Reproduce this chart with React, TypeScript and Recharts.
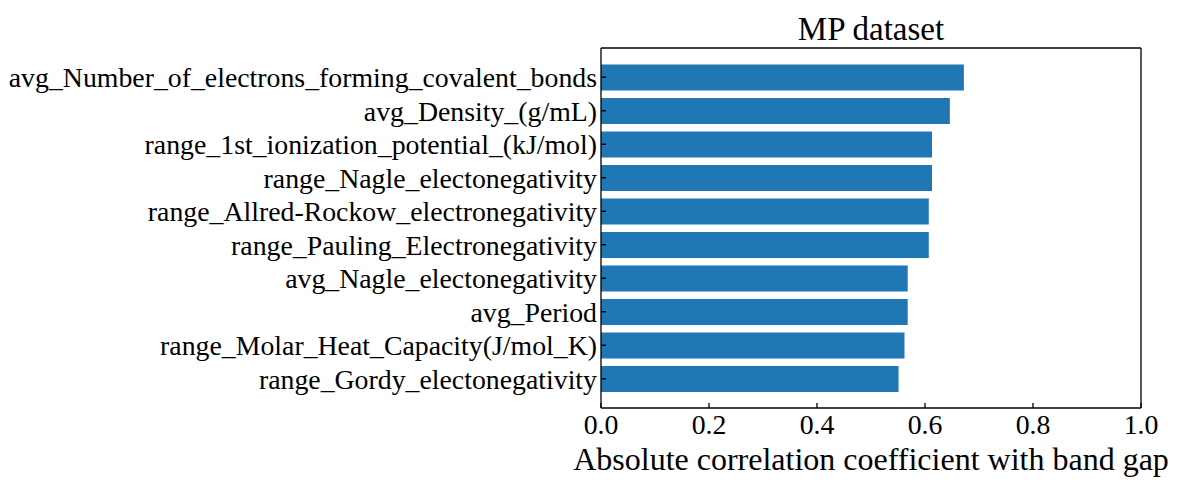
import { BarChart, Bar, XAxis, YAxis, ReferenceLine } from 'recharts';

const features = [
  'avg_Number_of_electrons_forming_covalent_bonds',
  'avg_Density_(g/mL)',
  'range_1st_ionization_potential_(kJ/mol)',
  'range_Nagle_electonegativity',
  'range_Allred-Rockow_electronegativity',
  'range_Pauling_Electronegativity',
  'avg_Nagle_electonegativity',
  'avg_Period',
  'range_Molar_Heat_Capacity(J/mol_K)',
  'range_Gordy_electonegativity',
];

const correlations = [0.672, 0.646, 0.613, 0.613, 0.607, 0.607, 0.568, 0.568, 0.562, 0.551];

const xTicks = [0, 0.2, 0.4, 0.6, 0.8, 1.0];

const data = features.map((name, i) => ({ name, value: correlations[i] }));

const FONT = '"Liberation Serif", "Times New Roman", serif';
const tickStyle = { fontSize: 27.8, fill: '#000', fontFamily: FONT };

export default function App() {
  return (
    <div
      style={{
        position: 'absolute',
        left: 0,
        top: 0,
        width: 1200,
        height: 480,
        background: '#fff',
        fontFamily: FONT,
      }}
    >
      <BarChart
        width={1200}
        height={480}
        data={data}
        layout="vertical"
        margin={{ top: 0, right: 59, bottom: 0, left: 0 }}
      >
        <XAxis
          type="number"
          dataKey="value"
          domain={[0, 1]}
          ticks={xTicks}
          tickFormatter={(v) => Number(v).toFixed(1)}
          height={72}
          stroke="#000"
          strokeWidth={1.3}
          tick={tickStyle}
          tickSize={-5}
          tickMargin={11}
          label={{
            value: 'Absolute correlation coefficient with band gap',
            position: 'insideBottom',
            offset: 10,
            fill: '#000',
            fontSize: 32,
            fontFamily: FONT,
          }}
        />
        <XAxis
          xAxisId="top"
          orientation="top"
          type="number"
          domain={[0, 1]}
          height={48}
          stroke="#000"
          strokeWidth={1.3}
          tick={false}
          tickLine={false}
          label={{
            value: 'MP dataset',
            position: 'center',
            dy: 4,
            fill: '#000',
            fontSize: 33,
            fontFamily: FONT,
          }}
        />
        <YAxis
          type="category"
          dataKey="name"
          width={601}
          padding={{ top: 12.5, bottom: 12.5 }}
          stroke="#000"
          strokeWidth={1.3}
          tick={tickStyle}
          tickSize={-5}
          tickMargin={9}
          interval={0}
        />
        <Bar dataKey="value" fill="#1f77b4" barSize={26} isAnimationActive={false} />
        <ReferenceLine x={1} stroke="#000" strokeWidth={1.3} ifOverflow="visible" />
      </BarChart>
    </div>
  );
}
